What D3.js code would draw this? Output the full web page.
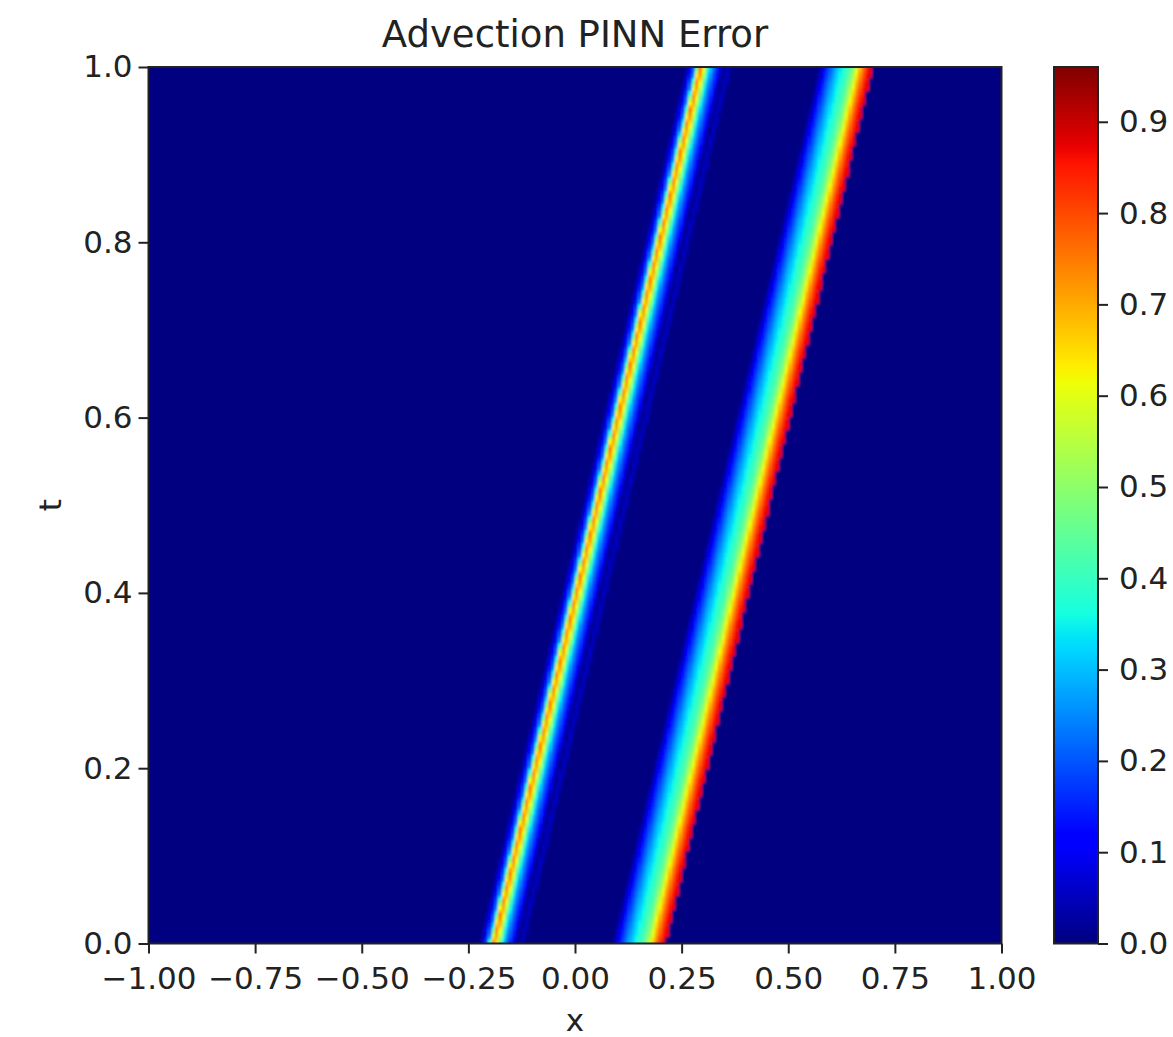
<!DOCTYPE html>
<html>
<head>
<meta charset="utf-8">
<script src="https://cdn.jsdelivr.net/npm/d3@7"></script>
<style>
    body { margin: 0; background: #fff; }
    svg text { font-family: "DejaVu Sans", sans-serif; fill: #222; }
</style>
</head>
<body>
<div id="chart"></div>
<script>
// axis ticks
const xTicks = [-1, -0.75, -0.5, -0.25, 0, 0.25, 0.5, 0.75, 1];
const tTicks = [0, 0.2, 0.4, 0.6, 0.8, 1.0];
const cbarTicks = [0, 0.1, 0.2, 0.3, 0.4, 0.5, 0.6, 0.7, 0.8, 0.9];
const errMax = 0.96;

// error profile along the characteristic xi = x - speed * t
const waveSpeed = 0.485;
const profileXi = [-0.226, -0.218, -0.210, -0.203, -0.197, -0.192, -0.187, -0.182, -0.176, -0.170,
    -0.163, -0.155, -0.147, -0.140, -0.134, -0.128, -0.123, -0.117,
    0.086, 0.094, 0.102, 0.110, 0.118, 0.126, 0.134, 0.142, 0.150, 0.158, 0.165,
    0.173, 0.180, 0.188, 0.196, 0.203, 0.2115];
const profileErr = [0.0, 0.07, 0.15, 0.26, 0.56, 0.75, 0.70, 0.60, 0.46, 0.34,
    0.25, 0.18, 0.12, 0.04, 0.0, 0.06, 0.05, 0.0,
    0.0, 0.06, 0.12, 0.18, 0.23, 0.28, 0.32, 0.36, 0.39, 0.42, 0.47,
    0.55, 0.64, 0.73, 0.80, 0.86, 0.88];

// grid of the solution
const nx = 256, nt = 256;

// matplotlib "jet" breakpoints
const jetStops = [0, 0.11, 0.125, 0.34, 0.35, 0.375, 0.64, 0.65, 0.66, 0.89, 0.91, 1];
const jetColors = ["#000080", "#0000ff", "#0000ff", "#00dbff", "#00e5f7", "#15ffe2",
    "#eeff08", "#f7f500", "#ffec00", "#ff1300", "#e80000", "#800000"];

const W = 1173, H = 1037;
const plot = {left: 148.5, right: 1001.5, top: 67, bottom: 943.5};
const cbar = {left: 1054, right: 1098};

const svg = d3.select("#chart").append("svg")
    .attr("width", W)
    .attr("height", H);

const x = d3.scaleLinear().domain([-1, 1]).range([plot.left, plot.right]);
const y = d3.scaleLinear().domain([0, 1]).range([plot.bottom, plot.top]);
const jet = d3.scaleLinear().domain(jetStops).range(jetColors).interpolate(d3.interpolateRgb);
const color = v => jet(Math.min(1, v / errMax));
const profile = d3.scaleLinear().domain(profileXi).range(profileErr).clamp(true);

// build cells (the right band ends in a sharp front at the last profile point)
const dx = 2 / nx, dt = 1 / nt;
let cells = [];
d3.range(nt).forEach(j => {
    const t = (j + 0.5) * dt;
    d3.range(nx).forEach(i => {
        const xc = -1 + (i + 0.5) * dx;
        const xi = xc - waveSpeed * t;
        if (xi < profileXi[0] || xi > profileXi[profileXi.length - 1]) return;
        const e = profile(xi);
        if (e > 0.004) cells.push({x0: -1 + i * dx, t0: j * dt, e: e});
    });
});

const defs = svg.append("defs");
defs.append("clipPath").attr("id", "plotClip")
    .append("rect")
    .attr("x", plot.left).attr("y", plot.top)
    .attr("width", plot.right - plot.left).attr("height", plot.bottom - plot.top);
defs.append("filter").attr("id", "soft")
    .attr("x", "-5%").attr("y", "-5%").attr("width", "110%").attr("height", "110%")
    .append("feGaussianBlur").attr("stdDeviation", 1.3);

const heat = svg.append("g").attr("clip-path", "url(#plotClip)")
    .append("g").attr("filter", "url(#soft)");

heat.append("rect")
    .attr("x", x(-1) - 10).attr("y", y(1) - 10)
    .attr("width", x(1) - x(-1) + 20).attr("height", y(0) - y(1) + 20)
    .attr("fill", color(0));

heat.selectAll(".cell")
    .data(cells)
    .enter()
    .append("rect")
    .attr("class", "cell")
    .attr("x", d => x(d.x0))
    .attr("y", d => y(d.t0 + dt))
    .attr("width", x(dx) - x(0) + 0.3)
    .attr("height", y(0) - y(dt) + 0.3)
    .attr("fill", d => color(d.e))
    .attr("shape-rendering", "crispEdges");

// frame
svg.append("rect")
    .attr("x", plot.left).attr("y", plot.top)
    .attr("width", plot.right - plot.left).attr("height", plot.bottom - plot.top)
    .attr("fill", "none").attr("stroke", "#222").attr("stroke-width", 2);

const fmt1 = d3.format(".1f"), fmt2 = d3.format(".2f");

const xAxis = svg.append("g")
    .attr("transform", `translate(0,${plot.bottom})`)
    .call(d3.axisBottom(x).tickValues(xTicks).tickFormat(fmt2).tickSize(10).tickSizeOuter(0).tickPadding(13));

const yAxis = svg.append("g")
    .attr("transform", `translate(${plot.left},0)`)
    .call(d3.axisLeft(y).tickValues(tTicks).tickFormat(fmt1).tickSize(10).tickSizeOuter(0).tickPadding(6));

[xAxis, yAxis].forEach(a => {
    a.select(".domain").remove();
    a.selectAll("line").attr("stroke", "#222").attr("stroke-width", 2);
    a.selectAll("text").style("font-size", "31px").attr("fill", "#222");
});

// colorbar
const cy = d3.scaleLinear().domain([0, errMax]).range([plot.bottom, plot.top]);
const grad = defs.append("linearGradient").attr("id", "jetGrad")
    .attr("x1", 0).attr("y1", 1).attr("x2", 0).attr("y2", 0);
grad.selectAll("stop")
    .data(jetStops)
    .enter()
    .append("stop")
    .attr("offset", d => d)
    .attr("stop-color", (d, i) => jetColors[i]);

svg.append("rect")
    .attr("x", cbar.left).attr("y", cy(errMax))
    .attr("width", cbar.right - cbar.left).attr("height", cy(0) - cy(errMax))
    .attr("fill", "url(#jetGrad)")
    .attr("stroke", "#222").attr("stroke-width", 2);

const cAxis = svg.append("g")
    .attr("transform", `translate(${cbar.right},0)`)
    .call(d3.axisRight(cy).tickValues(cbarTicks).tickFormat(fmt1).tickSize(10).tickSizeOuter(0).tickPadding(11));
cAxis.select(".domain").remove();
cAxis.selectAll("line").attr("stroke", "#222").attr("stroke-width", 2);
cAxis.selectAll("text").style("font-size", "31px").attr("fill", "#222");

// titles
svg.append("text")
    .attr("x", (plot.left + plot.right) / 2)
    .attr("y", 47)
    .attr("text-anchor", "middle")
    .style("font-size", "37px")
    .text("Advection PINN Error");

svg.append("text")
    .attr("x", (plot.left + plot.right) / 2)
    .attr("y", 1031)
    .attr("text-anchor", "middle")
    .style("font-size", "31px")
    .text("x");

svg.append("text")
    .attr("transform", `translate(61,${(plot.top + plot.bottom) / 2}) rotate(-90)`)
    .attr("text-anchor", "middle")
    .style("font-size", "31px")
    .text("t");
</script>
</body>
</html>
